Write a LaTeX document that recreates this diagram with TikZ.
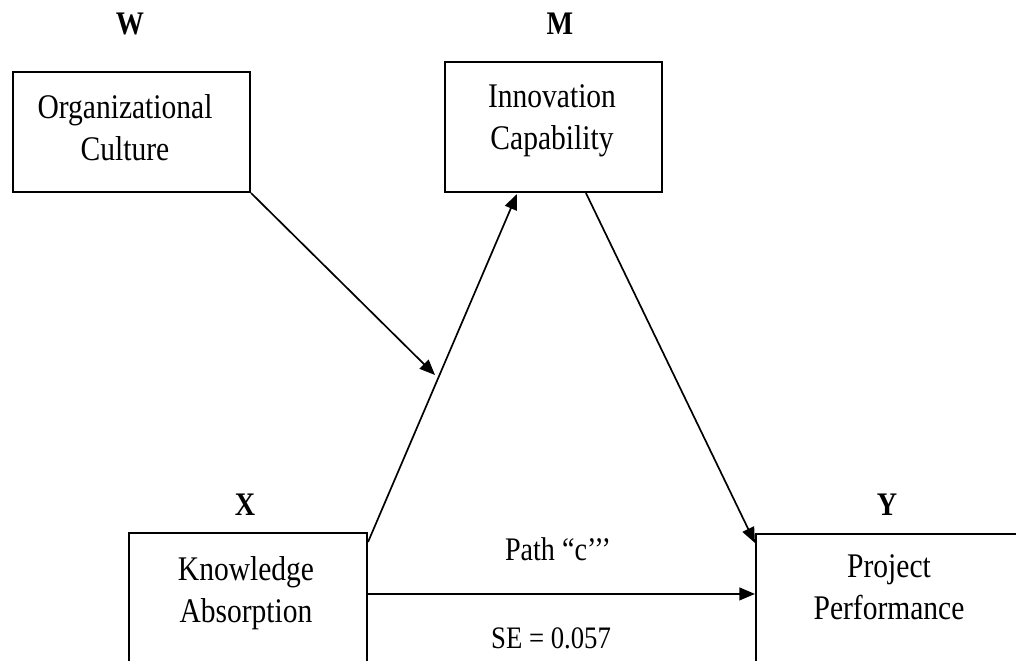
\documentclass[tikz,border=0pt]{standalone}
\usepackage{fontspec}
\setmainfont{Liberation Serif}
\usetikzlibrary{positioning}
\usetikzlibrary{calc, fit, arrows.meta}
\tikzstyle{box} = [draw=black, line width=1.5pt, inner sep=0pt]
\tikzstyle{txt} = [font=\fontsize{21}{25.6}\selectfont, align=center, inner sep=0pt, yscale=1.17, transform shape, anchor=north]
\tikzstyle{lbl} = [font=\bfseries\fontsize{20}{24}\selectfont, inner sep=0pt, yscale=1.17, transform shape, anchor=base]
\tikzstyle{arrow} = [line width=1.2pt, -{Triangle[length=11pt, width=9pt]}]

\begin{document}
\begin{tikzpicture}[x=0.025cm, y=-0.025cm]
      \useasboundingbox (0,0) rectangle (1016,661);
      \clip (0,0) rectangle (1016,661);
      %%%%%%%%%%%%%%%%%%%%%%%%%%%%%%%%%%%%%%%
      % boxes
      \node (Wbox) [box, fit={(13,72) (250,192)}] {};
      \node (Mbox) [box, fit={(445,62) (662,192)}] {};
      \node (Xbox) [box, fit={(129,533) (367,720)}] {};
      \node (Ybox) [box, fit={(756,534) (1060,720)}] {};
      % texts in the boxes
      \node (oc) [txt] at (125,94) {Organizational\\ Culture};
      \node (ic) [txt] at (552,84) {Innovation\\ Capability};
      \node (ka) [txt] at (246,556) {Knowledge\\ Absorption};
      \node (pp) [txt] at (889,554) {Project\\ Performance};
      % letters
      \node (w) [lbl] at (130,35) {W};
      \node (m) [lbl] at (560,35) {M};
      \node (x) [lbl] at (245,515) {X};
      \node (y) [lbl] at (887,515) {Y};
      % path c
      \node (pc) [lbl, font=\fontsize{20}{24}\selectfont] at (558,560) {Path “c’’’};
      \node (se) [lbl, font=\fontsize{19}{23}\selectfont] at (551,648) {SE = 0.057};
      %%%%%%%%%%%%%%%%%%%%%%%%%%%%%%%%%%%%%%%
      \coordinate (mod) at (435,375);
      \draw[arrow] ($(Xbox.north east)+(0,10)$)--($(Mbox.south west)+(73,1)$);
      \draw[arrow] ($(Mbox.south west)+(142,0)$)--($(Ybox.north west)+(0,10)$);
      \draw[arrow] (Wbox.south east)--(mod);
      \draw[arrow] ($(Xbox.north east)+(0,62)$)--($(Ybox.north west)+(0,61)$);
      %\draw (oc)--(ic);
\end{tikzpicture}
\end{document}
